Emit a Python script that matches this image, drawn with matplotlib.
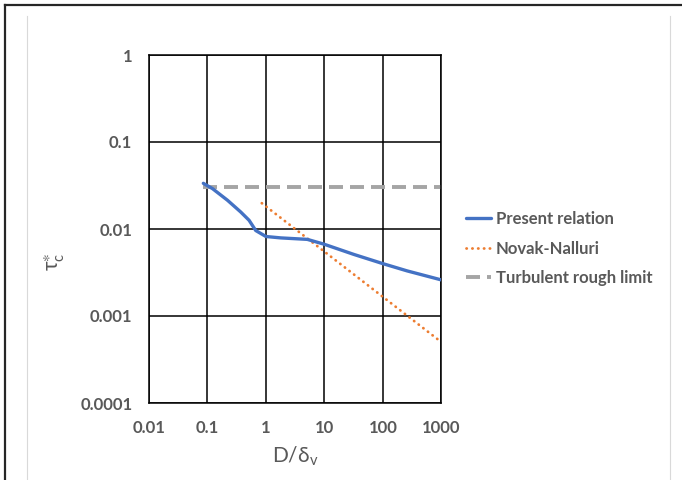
import numpy as np
import matplotlib
matplotlib.use('Agg')
import matplotlib.pyplot as plt
from matplotlib.lines import Line2D
from matplotlib.ticker import FixedLocator, FixedFormatter, NullLocator

plt.rcParams['font.family'] = ['Lato', 'DejaVu Sans']
plt.rcParams['mathtext.fontset'] = 'dejavusans'

# Data (log-log)
present_x = [0.085, 0.122, 0.22, 0.37, 0.515, 0.67, 1.0, 1.8, 5.1, 9.8, 32, 100, 260, 1000]
present_y = [0.0335, 0.0291, 0.0214, 0.0157, 0.0126, 0.0096, 0.0082, 0.0079, 0.0076,
             0.0067, 0.0051, 0.0040, 0.0033, 0.0026]

novak_x = [0.85, 900]
novak_y = [0.0198, 0.00053]

rough_x = [0.085, 1000]
rough_y = [0.03, 0.03]

xticks = [0.01, 0.1, 1, 10, 100, 1000]
xtick_labels = ['0.01', '0.1', '1', '10', '100', '1000']
yticks = [0.0001, 0.001, 0.01, 0.1, 1]
ytick_labels = ['0.0001', '0.001', '0.01', '0.1', '1']

text_grey = '#595959'

fig = plt.figure(figsize=(6.82, 4.8), dpi=100)
W, H = 682.0, 480.0
ax = fig.add_axes([149 / W, 1 - 403 / H, (441.3 - 149) / W, (403 - 55) / H])

ax.plot(present_x, present_y, color='#4472C4', lw=2.4, label='Present relation',
        solid_capstyle='round', zorder=4)
ax.plot(novak_x, novak_y, color='#ED7D31', lw=2.0, linestyle=(0, (0.1, 2.0)),
        dash_capstyle='round', label='Novak-Nalluri', zorder=3)
ax.plot(rough_x, rough_y, color='#A5A5A5', lw=2.8, linestyle=(0, (3.6, 1.8)),
        label='Turbulent rough limit', zorder=2)

ax.set_xscale('log')
ax.set_yscale('log')
ax.set_xlim(0.01, 1000)
ax.set_ylim(0.0001, 1)

ax.xaxis.set_major_locator(FixedLocator(xticks))
ax.xaxis.set_major_formatter(FixedFormatter(xtick_labels))
ax.xaxis.set_minor_locator(NullLocator())
ax.yaxis.set_major_locator(FixedLocator(yticks))
ax.yaxis.set_major_formatter(FixedFormatter(ytick_labels))
ax.yaxis.set_minor_locator(NullLocator())

ax.grid(True, color='black', lw=1.1)
for s in ax.spines.values():
    s.set_color('black')
    s.set_linewidth(1.1)
ax.tick_params(length=0, labelsize=12, labelcolor=text_grey)
ax.tick_params(axis='y', pad=12)
ax.tick_params(axis='x', pad=12)
for lab in ax.get_xticklabels() + ax.get_yticklabels():
    lab.set_fontweight('bold')

fig.text(295 / W, 1 - 456 / H, r'D/$\mathregular{\delta_v}$', ha='center', va='center',
         fontsize=15, color=text_grey)
fig.text(55 / W, 1 - 262 / H, r'$\mathregular{\tau_c^{\ast}}$', ha='center', va='center',
         rotation=90, fontsize=15, color=text_grey)

leg = ax.legend(loc='center left', bbox_to_anchor=(466 / W, 1 - 248.5 / H),
                bbox_transform=fig.transFigure, frameon=False, borderpad=0,
                borderaxespad=0, handlelength=1.5, handletextpad=0.3,
                labelspacing=0.8, prop={'size': 12, 'weight': 'bold'})
for t in leg.get_texts():
    t.set_color(text_grey)

# chart frame pieces
fig.add_artist(Line2D([5 / W, 5 / W], [0, 1 - 5 / H], color='#262626', lw=1.6))
fig.add_artist(Line2D([5 / W, 1], [1 - 5 / H, 1 - 5 / H], color='#262626', lw=1.6))
fig.add_artist(Line2D([27 / W, 27 / W], [0, 1 - 16 / H], color='#D9D9D9', lw=0.8))
fig.add_artist(Line2D([670 / W, 670 / W], [0, 1 - 16 / H], color='#D9D9D9', lw=0.8))

fig.savefig('out.png', dpi=100)
